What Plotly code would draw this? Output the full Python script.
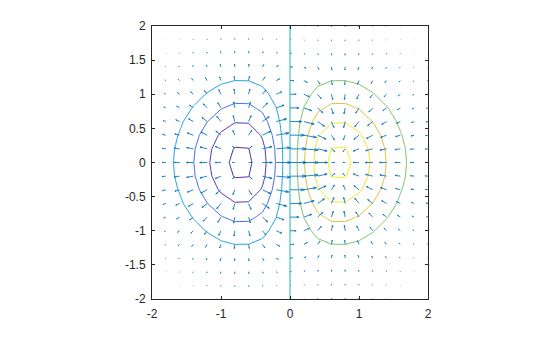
import numpy as np
import plotly.graph_objects as go

# grid coordinates (-2:0.2:2)
xs = [-2.0, -1.8, -1.6, -1.4, -1.2, -1.0, -0.8, -0.6, -0.4, -0.2, 0.0,
      0.2, 0.4, 0.6, 0.8, 1.0, 1.2, 1.4, 1.6, 1.8, 2.0]
ys = list(xs)
# separable profile values of the surface: z(x, y) = fx(x) * gy(y)
fx = [-0.036631, -0.070495, -0.123688, -0.197201, -0.284314, -0.367879,
      -0.421834, -0.418606, -0.340858, -0.192158, 0.0,
      0.192158, 0.340858, 0.418606, 0.421834, 0.367879, 0.284314,
      0.197201, 0.123688, 0.070495, 0.036631]
gy = [0.018316, 0.039164, 0.077305, 0.140858, 0.236928, 0.367879,
      0.527292, 0.697676, 0.852144, 0.960789, 1.0,
      0.960789, 0.852144, 0.697676, 0.527292, 0.367879, 0.236928,
      0.140858, 0.077305, 0.039164, 0.018316]
levels = [-0.4, -0.3, -0.2, -0.1, 0.0, 0.1, 0.2, 0.3, 0.4]
level_colors = ["rgb(66,42,168)", "rgb(80,80,228)", "rgb(45,128,240)",
                "rgb(28,166,222)", "rgb(22,176,172)", "rgb(92,200,115)",
                "rgb(202,184,48)", "rgb(250,192,62)", "rgb(245,238,30)"]
xticks = [-2, -1, 0, 1, 2]
yticks = [-2, -1.5, -1, -0.5, 0, 0.5, 1, 1.5, 2]

X, Y = np.meshgrid(xs, ys)
Z = np.outer(gy, fx)
step = 0.2
DY, DX = np.gradient(Z, step, step)

# MATLAB-style quiver autoscaling
n = len(xs)
delx = (max(xs) - min(xs)) / n
dely = (max(ys) - min(ys)) / n
dl = delx ** 2 + dely ** 2
maxlen = np.sqrt((DX ** 2 + DY ** 2) / dl).max()
s = 0.9 / maxlen
U = DX * s
V = DY * s

alpha, beta = 0.25, 0.33
lx, ly = [], []
for x0, y0, u, v in zip(X.ravel(), Y.ravel(), U.ravel(), V.ravel()):
    lx += [x0, x0 + u, None]
    ly += [y0, y0 + v, None]
    lx += [x0 + u - alpha * (u + beta * v), x0 + u,
           x0 + u - alpha * (u - beta * v), None]
    ly += [y0 + v - alpha * (v - beta * u), y0 + v,
           y0 + v - alpha * (v + beta * u), None]

lo, hi = -0.5, 0.5
cs = [[0.0, level_colors[0]]]
for lv, c in zip(levels, level_colors):
    cs.append([(lv - lo) / (hi - lo), c])
cs.append([1.0, level_colors[-1]])

fig = go.Figure()
fig.add_trace(go.Contour(
    x=xs, y=ys, z=Z, autocontour=False,
    contours=dict(coloring="lines", start=levels[0], end=levels[-1],
                  size=0.1, showlabels=False),
    line=dict(width=1, smoothing=0),
    colorscale=cs, zmin=lo, zmax=hi, showscale=False, hoverinfo="skip"))
fig.add_trace(go.Scatter(x=lx, y=ly, mode="lines",
                         line=dict(color="#0072BD", width=0.85),
                         hoverinfo="skip", showlegend=False))

axis_common = dict(showline=True, linecolor="#262626", linewidth=1,
                   mirror="ticks", ticks="inside", ticklen=3,
                   tickcolor="#262626", showgrid=False, zeroline=False,
                   tickfont=dict(family="Liberation Sans, Arial", size=12,
                                 color="#262626"))
fig.update_xaxes(range=[-2, 2], tickvals=xticks, ticklabelstandoff=4,
                 ticktext=[f"{t:g}" for t in xticks], **axis_common)
fig.update_yaxes(range=[-2, 2], tickvals=yticks, ticklabelstandoff=3,
                 ticktext=[f"{t:g}" for t in yticks], **axis_common)
fig.update_layout(width=560, height=337,
                  margin=dict(l=152, r=132, t=26, b=38),
                  plot_bgcolor="white", paper_bgcolor="white",
                  showlegend=False)
fig.write_html("out.html")
